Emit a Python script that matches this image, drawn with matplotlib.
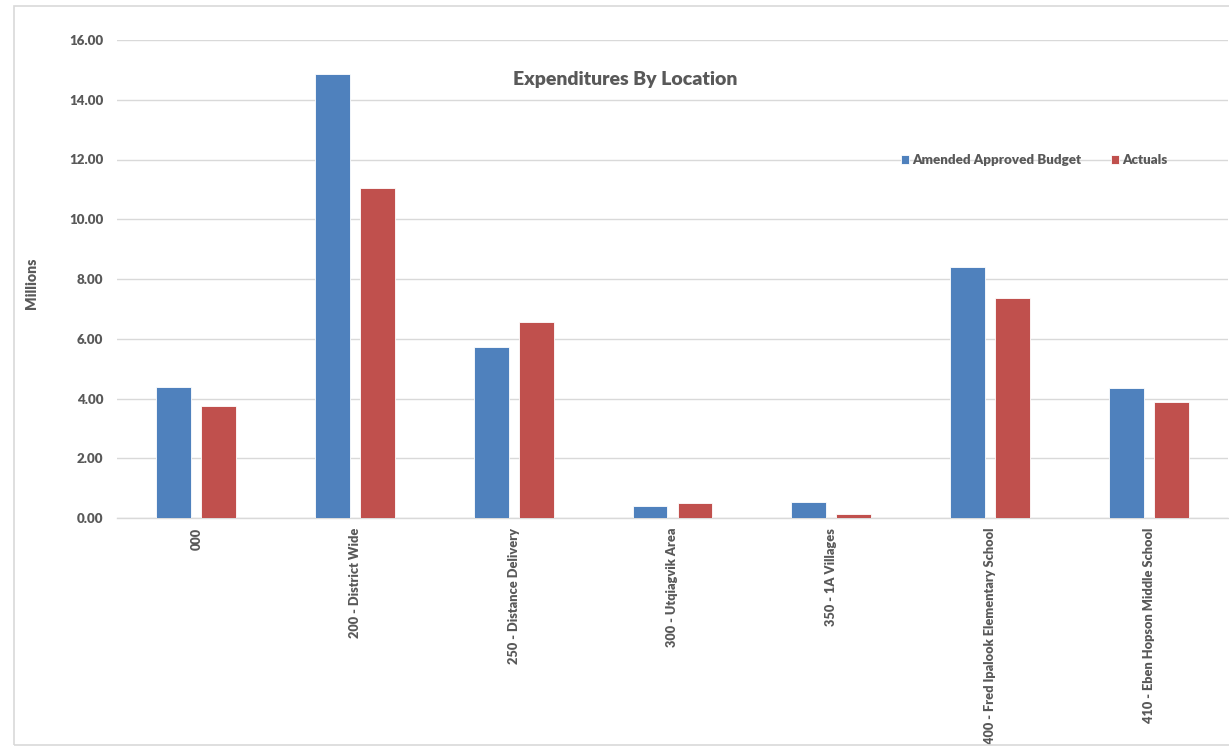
import matplotlib
matplotlib.use("Agg")
import matplotlib.pyplot as plt
import numpy as np
from matplotlib.patches import Rectangle

categories = ["000", "200 - District Wide", "250 - Distance Delivery", "300 - Utqiagvik Area",
              "350 - 1A Villages", "400 - Fred Ipalook Elementary School", "410 - Eben Hopson Middle School"]
budget = [4.37, 14.86, 5.73, 0.40, 0.55, 8.40, 4.36]
actuals = [3.75, 11.04, 6.57, 0.51, 0.13, 7.37, 3.89]
yticks = [0, 2, 4, 6, 8, 10, 12, 14, 16]

plt.rcParams['font.family'] = ['Lato', 'DejaVu Sans']
txt = '#595959'
fs = 9.6
fig = plt.figure(figsize=(12.29, 7.47), dpi=100)
fig.patches.append(Rectangle((14/1229, 2/747), 1.0, 739/747, transform=fig.transFigure,
                             fill=False, edgecolor='#D9D9D9', linewidth=1.2))
ax = fig.add_axes([117/1229, (747-518)/747, 1111/1229, 478/747])
x = np.arange(len(categories))
w = 0.22
off = 0.142
ax.bar(x - off, budget, w, color='#4F81BD', edgecolor='white', linewidth=0.6, label='Amended Approved Budget', zorder=3)
ax.bar(x + off, actuals, w, color='#C0504D', edgecolor='white', linewidth=0.6, label='Actuals', zorder=3)
ax.set_xlim(-0.5, len(categories) - 0.5)
ax.set_ylim(0, 16)
ax.set_yticks(yticks)
ax.set_yticklabels([f"{v:.2f}" for v in yticks], fontsize=fs, fontweight='heavy', color=txt)
ax.set_xticks(x)
ax.set_xticklabels(categories, rotation=90, fontsize=9.2, fontweight='heavy', color=txt, va='top', ha='center')
ax.tick_params(axis='both', length=0)
ax.tick_params(axis='y', pad=10)
ax.tick_params(axis='x', pad=7)
ax.grid(axis='y', color='#D9D9D9', linewidth=1, zorder=0)
for s in ['top', 'right', 'left']:
    ax.spines[s].set_visible(False)
ax.spines['bottom'].set_color('#D9D9D9')
ax.spines['bottom'].set_linewidth(1)
ax.set_ylabel('Millions', fontsize=fs + 0.6, fontweight='heavy', color=txt, labelpad=0)
ax.yaxis.set_label_coords(-79/1111, 0.492)
fig.text(625/1229, 1 - 80/747, 'Expenditures By Location', ha='center', va='center',
         fontsize=14, fontweight='heavy', color=txt)
leg = ax.legend(loc='center', bbox_to_anchor=((1034 - 117)/1111, (518 - 160)/478), ncol=2, frameon=False,
                handlelength=0.6, handleheight=0.6, handletextpad=0.25, columnspacing=2.2,
                prop={'weight': 'heavy', 'size': fs})
for t in leg.get_texts():
    t.set_color(txt)
fig.savefig('out.png', dpi=100)
